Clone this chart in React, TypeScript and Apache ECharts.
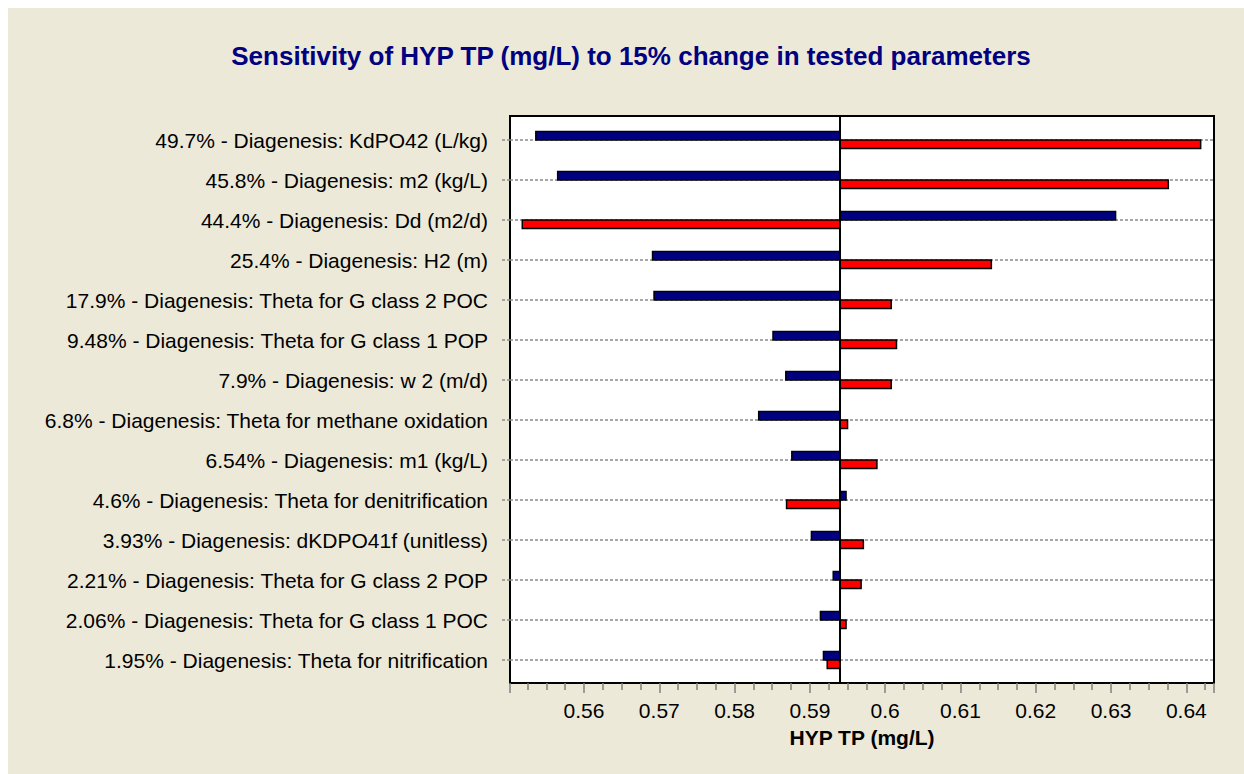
import React, { useEffect, useRef } from 'react';
import * as echarts from 'echarts';

const categories = [
  '49.7% - Diagenesis: KdPO42 (L/kg)',
  '45.8% - Diagenesis: m2 (kg/L)',
  '44.4% - Diagenesis: Dd (m2/d)',
  '25.4% - Diagenesis: H2 (m)',
  '17.9% - Diagenesis: Theta for G class 2 POC',
  '9.48% - Diagenesis: Theta for G class 1 POP',
  '7.9% - Diagenesis: w 2 (m/d)',
  '6.8% - Diagenesis: Theta for methane oxidation',
  '6.54% - Diagenesis: m1 (kg/L)',
  '4.6% - Diagenesis: Theta for denitrification',
  '3.93% - Diagenesis: dKDPO41f (unitless)',
  '2.21% - Diagenesis: Theta for G class 2 POP',
  '2.06% - Diagenesis: Theta for G class 1 POC',
  '1.95% - Diagenesis: Theta for nitrification',
];

// value of HYP TP when parameter is decreased (blue) / increased (red)
const blueValues = [0.5536, 0.5565, 0.6306, 0.5691, 0.5693, 0.5851, 0.5868, 0.5832, 0.5876, 0.5948, 0.5902, 0.5931, 0.5914, 0.5918];
const redValues = [0.6419, 0.6376, 0.5518, 0.6141, 0.6008, 0.6015, 0.6008, 0.595, 0.5989, 0.5869, 0.5971, 0.5968, 0.5948, 0.5923];
const baseline = 0.594;
const xMin = 0.55017;
const xMax = 0.64367;

const FONT = "'Liberation Sans', Arial, sans-serif";

export default function App() {
  const ref = useRef<HTMLDivElement>(null);

  useEffect(() => {
    const chart = echarts.init(ref.current!, null, { renderer: 'svg' });

    const makeBars = (name: string, values: number[], color: string, above: boolean) => ({
      type: 'custom',
      name,
      xAxisIndex: 0,
      yAxisIndex: 0,
      z: 3,
      data: values.map((v, i) => [v, i]),
      encode: { x: 0, y: 1 },
      renderItem: (_params: any, api: any) => {
        const v = api.value(0);
        const i = api.value(1);
        const a = api.coord([baseline, i]);
        const b = api.coord([v, i]);
        const x = Math.min(a[0], b[0]);
        const w = Math.abs(b[0] - a[0]);
        const h = 8.5;
        const y = above ? a[1] - h : a[1];
        return {
          type: 'rect',
          shape: { x, y, width: w, height: h },
          style: { fill: color, stroke: '#000', lineWidth: 1.5 },
        };
      },
    });

    chart.setOption({
      animation: false,
      backgroundColor: '#ECE9D8',
      title: {
        text: 'Sensitivity of HYP TP (mg/L) to 15% change in tested parameters',
        left: 618,
        top: 30,
        textAlign: 'center',
        textStyle: { fontFamily: FONT, fontSize: 26, fontWeight: 'bold', color: '#000080' },
      },
      grid: [
        { left: 502, top: 132, width: 704, height: 520, show: false, containLabel: false },
        {
          left: 502, top: 108, width: 704, height: 567, show: true,
          backgroundColor: '#ffffff', borderColor: '#000', borderWidth: 2,
        },
      ],
      xAxis: [
        {
          type: 'value',
          gridIndex: 0,
          min: xMin,
          max: xMax,
          splitNumber: 9,
          position: 'bottom',
          offset: 23,
          name: 'HYP TP (mg/L)',
          nameLocation: 'middle',
          nameGap: 44,
          nameTextStyle: { fontFamily: FONT, fontSize: 21, fontWeight: 'bold', color: '#000' },
          axisLine: { show: false },
          axisTick: { show: true, length: 10, lineStyle: { color: '#808080', width: 1.5 } },
          minorTick: { show: true, splitNumber: 4, length: 7, lineStyle: { color: '#808080', width: 1.5 } },
          splitLine: { show: false },
          axisLabel: {
            show: true,
            showMinLabel: false,
            showMaxLabel: false,
            margin: 17,
            fontFamily: FONT,
            fontSize: 21,
            color: '#000',
            formatter: (v: number) => String(Math.round(v * 100) / 100),
          },
        },
        { type: 'value', gridIndex: 1, min: xMin, max: xMax, show: false },
      ],
      yAxis: [
        {
          type: 'category',
          gridIndex: 0,
          data: categories,
          inverse: true,
          boundaryGap: false,
          axisLine: { show: false },
          axisTick: { show: true, length: 10, lineStyle: { color: '#8a8a8a', type: [3, 2], width: 1.5 } },
          splitLine: { show: true, lineStyle: { color: '#8a8a8a', type: [3, 2], width: 1.5 } },
          axisLabel: { margin: 22, fontFamily: FONT, fontSize: 21, color: '#000', interval: 0 },
        },
        { type: 'value', gridIndex: 1, min: 0, max: 1, show: false },
      ],
      series: [
        makeBars('Low', blueValues, '#000080', true),
        makeBars('High', redValues, '#ff0000', false),
        {
          type: 'line',
          name: 'Baseline',
          xAxisIndex: 1,
          yAxisIndex: 1,
          data: [[baseline, 0], [baseline, 1]],
          symbol: 'none',
          silent: true,
          z: 5,
          lineStyle: { color: '#000', width: 2 },
        },
      ],
    });

    return () => chart.dispose();
  }, []);

  return (
    <div
      ref={ref}
      style={{ position: 'fixed', left: 8, top: 8, width: 1236, height: 766 }}
    />
  );
}
